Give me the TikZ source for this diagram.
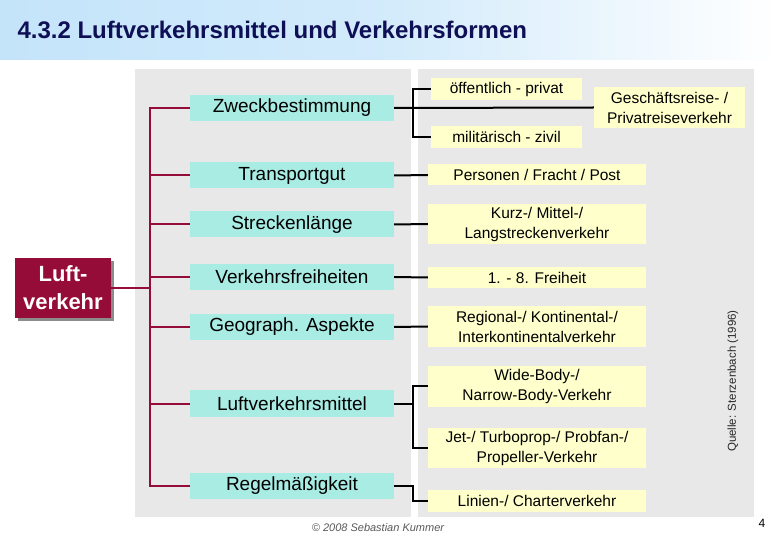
\documentclass[tikz,border=0pt]{standalone}
\usepackage{fontspec}
\setmainfont{Liberation Sans}
\usetikzlibrary{shadows}
\definecolor{cyanbox}{RGB}{168,236,228}
\definecolor{yelbox}{RGB}{255,255,204}
\definecolor{panelgray}{RGB}{232,232,232}
\definecolor{maroonc}{RGB}{150,12,56}
\definecolor{navyc}{RGB}{15,15,85}
\definecolor{bandc}{RGB}{196,228,250}
\begin{document}
\begin{tikzpicture}[x=1pt,y=-1pt,
  catbox/.style={fill=cyanbox, minimum width=204pt, minimum height=26pt, inner sep=0pt, text=black, font=\fontsize{19}{22}\selectfont},
  formbox/.style={fill=yelbox, inner sep=0pt, align=center, text=black, font=\fontsize{15.5}{20}\selectfont},
  wideform/.style={formbox, minimum width=218pt},
  smallform/.style={formbox, minimum width=151pt},
  conn/.style={black, line width=2pt},
  redline/.style={maroonc, line width=2pt}]
\useasboundingbox (0,0) rectangle (780,540);
\fill[white] (0,0) rectangle (780,540);
\shade[left color=bandc, right color=white, middle color=bandc!75!white] (0,0) rectangle (780,60);
\node[anchor=west, text=navyc, font=\fontsize{24}{28}\selectfont\bfseries] (title) at (14,30) {4.3.2 Luftverkehrsmittel und Verkehrsformen};
% panels
\fill[panelgray] (135,69) rectangle (411,517);
\fill[panelgray] (418,69) rectangle (754,517);
% left category boxes
\node[catbox] (zweck) at (292,108) {Zweckbestimmung};
\node[catbox] (trans) at (292,175.5) {Transportgut};
\node[catbox] (streck) at (292,224.5) {Streckenlänge};
\node[catbox] (frei) at (292,277) {Verkehrsfreiheiten};
\node[catbox] (geo) at (292,327) {Geograph. Aspekte};
\node[catbox] (lvm) at (292,403.5) {Luftverkehrsmittel};
\node[catbox] (regel) at (292,486) {Regelmäßigkeit};
% right form boxes
\node[smallform, minimum height=22pt] (oeff) at (506.5,89) {öffentlich - privat};
\node[smallform, minimum height=22pt] (mil) at (506.5,137) {militärisch - zivil};
\node[smallform, minimum height=41pt] (gesch) at (669.5,107.5) {Geschäftsreise- /\\Privatreiseverkehr};
\node[wideform, minimum height=21pt] (pers) at (537,175) {Personen / Fracht / Post};
\node[wideform, minimum height=40pt] (kurz) at (537,224) {Kurz-/ Mittel-/\\Langstreckenverkehr};
\node[wideform, minimum height=21pt] (frh) at (537,277.5) {1. - 8. Freiheit};
\node[wideform, minimum height=41pt] (reg) at (537,326.5) {Regional-/ Kontinental-/\\Interkontinentalverkehr};
\node[wideform, minimum height=41pt] (wide) at (537,386.5) {Wide-Body-/\\Narrow-Body-Verkehr};
\node[wideform, minimum height=40pt] (jet) at (537,448) {Jet-/ Turboprop-/ Probfan-/\\Propeller-Verkehr};
\node[wideform, minimum height=22pt] (lin) at (537,501) {Linien-/ Charterverkehr};
% root
\node[fill=maroonc, minimum width=96pt, minimum height=60pt, inner sep=0pt, align=center, text=white,
  font=\fontsize{22}{28}\selectfont\bfseries,
  drop shadow={shadow xshift=3pt, shadow yshift=-3pt, fill=black!45, opacity=1}] (luft) at (63,288) {Luft-\\verkehr};
% red tree
\coordinate (sT) at (150,108);
\coordinate (sB) at (150,486);
\draw[redline] (zweck.west) -- (sT) -- (sB) -- (regel.west);
\foreach \n in {trans,streck,frei,geo,lvm} \draw[redline] (\n.west) -- (\n.west -| sT);
\draw[redline] (luft.east) -- (luft.east -| sT);
% black connectors
\coordinate (bz) at (413,108);
\draw[conn] (zweck.east) -- (gesch.west);
\draw[conn] (oeff.west) -- (oeff.west -| bz) -- (mil.west -| bz) -- (mil.west);
\draw[conn] (trans.east) -- (pers.west);
\draw[conn] (streck.east) -- (kurz.west);
\draw[conn] (frei.east) -- (frh.west);
\draw[conn] (geo.east) -- (reg.west);
\draw[conn] (lvm.east) -- (lvm.east -| bz);
\draw[conn] (wide.west) -- (wide.west -| bz) -- (jet.west -| bz) -- (jet.west);
\draw[conn] (regel.east) -- (regel.east -| bz) |- (lin.west);
% source, footer
\node[rotate=90, font=\fontsize{11.5}{13}\selectfont, text=black!85] (quelle) at (733,381) {Quelle: Sterzenbach (1996)};
\node[font=\fontsize{11}{13}\selectfont\itshape, text=black!65] (copy) at (378,528) {© 2008 Sebastian Kummer};
\node[font=\fontsize{12}{14}\selectfont] (page) at (762,523) {4};
\end{tikzpicture}
\end{document}
